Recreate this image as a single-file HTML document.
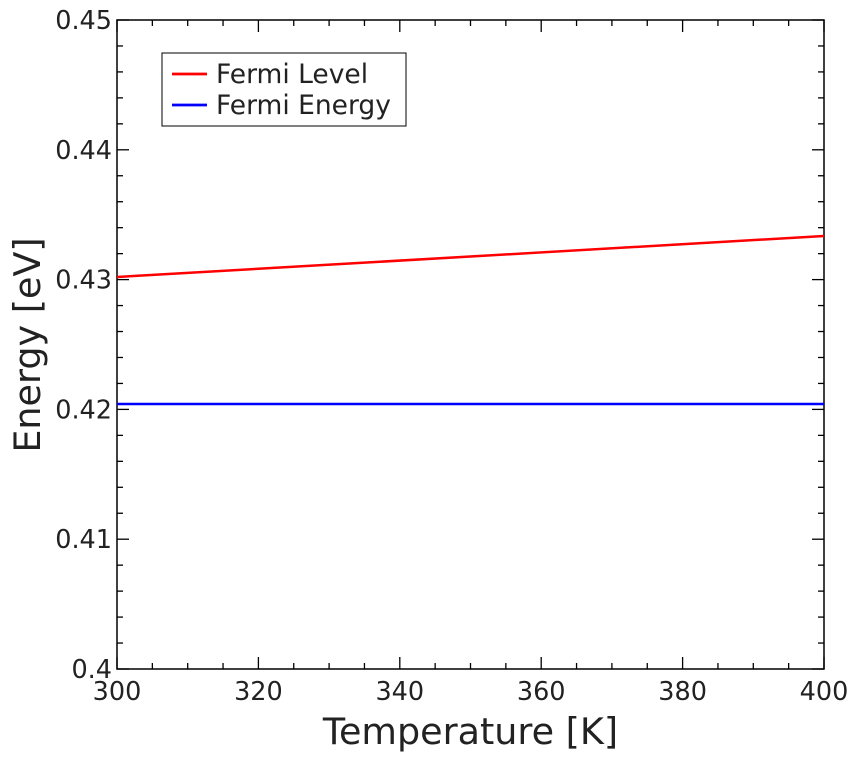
<!DOCTYPE html>
<html><head><meta charset="utf-8"><style>body{margin:0;background:#fff}svg text{font-family:"DejaVu Sans","Liberation Sans",sans-serif;fill:#222}</style></head>
<body><svg id="c" width="855" height="762"></svg>
<script>
const xTicks=[300,320,340,360,380,400];
const yTicks=[0.4,0.41,0.42,0.43,0.44,0.45];
const yTickLabels=["0.4","0.41","0.42","0.43","0.44","0.45"];
const temps=[300,400];
const fermiLevel=[0.4302,0.43336];
const fermiEnergy=[0.42042,0.42042];
const L=117,R=824,T=20,B=669;
const sx=v=>L+(v-300)/100*(R-L), sy=v=>B-(v-0.4)/0.05*(B-T);
const svg=document.getElementById('c');const NS='http://www.w3.org/2000/svg';
function el(t,a,p){const e=document.createElementNS(NS,t);for(const k in a)e.setAttribute(k,a[k]);(p||svg).appendChild(e);return e;}
const frame=el('rect',{x:L,y:T,width:R-L,height:B-T,fill:'none',stroke:'#000','stroke-width':1.5});


const tk=el('g',{stroke:'#000','stroke-width':1.3});


for(let v=300;v<=400.001;v+=5){const x=sx(v);const m=Math.round(v)%20===0;const len=m?12:6;
el('line',{x1:x,y1:B,x2:x,y2:B-len},tk);el('line',{x1:x,y1:T,x2:x,y2:T+len},tk);}
for(let i=0;i<=25;i++){const v=0.4+i*0.002;const y=sy(v);const m=i%5===0;const len=m?12:6;
el('line',{x1:L,y1:y,x2:L+len,y2:y},tk);el('line',{x1:R,y1:y,x2:R-len,y2:y},tk);}
xTicks.forEach(v=>{const t=el('text',{x:sx(v),y:B+31,'text-anchor':'middle','font-size':25.5});t.textContent=v;

});
yTicks.forEach((v,i)=>{const t=el('text',{x:L-5,y:sy(v)+9,'text-anchor':'end','font-size':25.5});t.textContent=yTickLabels[i];

});
const xt=el('text',{x:(L+R)/2,y:744,'text-anchor':'middle','font-size':36.5});xt.textContent='Temperature [K]';


const yt=el('text',{x:0,y:0,'text-anchor':'middle','font-size':36.5,transform:'translate(40,345) rotate(-90)'});yt.textContent='Energy [eV]';


function line(d,c,n){const p=el('polyline',{points:temps.map((t,i)=>sx(t)+','+sy(d[i])).join(' '),fill:'none',stroke:c,'stroke-width':2.5});

}
line(fermiLevel,'#f00','fermi-level-line');line(fermiEnergy,'#00f','fermi-energy-line');
const lg=el('g',{});


el('rect',{x:162,y:53,width:244,height:73,fill:'#fff',stroke:'#000','stroke-width':1},lg);
el('line',{x1:172,y1:74,x2:207,y2:74,stroke:'#f00','stroke-width':2.8},lg);
el('line',{x1:172,y1:105,x2:207,y2:105,stroke:'#00f','stroke-width':2.8},lg);
const l1=el('text',{x:216,y:83,'font-size':26.5},lg);l1.textContent='Fermi Level';


const l2=el('text',{x:216,y:114,'font-size':26.5},lg);l2.textContent='Fermi Energy';


</script></body></html>
